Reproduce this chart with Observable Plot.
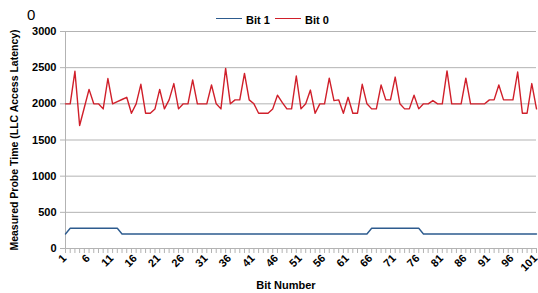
<!DOCTYPE html>
<html><head><meta charset="utf-8">
<script src="https://cdn.jsdelivr.net/npm/d3@7"></script>
<script src="https://cdn.jsdelivr.net/npm/@observablehq/plot@0.6"></script>
<style>
body{margin:0;background:#fff;font-family:"Liberation Sans",Arial,sans-serif;}
#wrap{position:relative;width:538px;height:293px;overflow:hidden;}
#head{position:relative;height:26px;}
#zero{position:absolute;left:27px;top:7px;font-size:15px;line-height:15px;color:#000;}
.sw{position:absolute;top:18px;width:26px;height:0;border-top:1.4px solid;}
.lt{position:absolute;top:14.5px;font-size:11px;line-height:11px;font-weight:bold;color:#000;}
#xlabel{position:absolute;left:286px;top:279px;transform:translateX(-50%);font-size:11px;line-height:13px;font-weight:bold;white-space:nowrap;}
#chart svg{display:block;}
</style></head><body>
<div id="wrap">
  <div id="head">
    <span id="zero">0</span>
    <span class="sw" style="left:216px;border-color:#2d5b8e"></span>
    <span class="lt" style="left:246px">Bit 1</span>
    <span class="sw" style="left:275px;border-color:#d01f2a"></span>
    <span class="lt" style="left:305px">Bit 0</span>
  </div>
  <div id="chart"></div>
  <div id="xlabel">Bit Number</div>
</div>
<script>
const bitNumbers = [1,2,3,4,5,6,7,8,9,10,11,12,13,14,15,16,17,18,19,20,21,22,23,24,25,26,27,28,29,30,31,32,33,34,35,36,37,38,39,40,41,42,43,44,45,46,47,48,49,50,51,52,53,54,55,56,57,58,59,60,61,62,63,64,65,66,67,68,69,70,71,72,73,74,75,76,77,78,79,80,81,82,83,84,85,86,87,88,89,90,91,92,93,94,95,96,97,98,99,100,101];
const bit1Values = [200,280,280,280,280,280,280,280,280,280,280,280,200,200,200,200,200,200,200,200,200,200,200,200,200,200,200,200,200,200,200,200,200,200,200,200,200,200,200,200,200,200,200,200,200,200,200,200,200,200,200,200,200,200,200,200,200,200,200,200,200,200,200,200,200,280,280,280,280,280,280,280,280,280,280,280,200,200,200,200,200,200,200,200,200,200,200,200,200,200,200,200,200,200,200,200,200,200,200,200,200];
const bit0Values = [2000,2000,2450,1700,1950,2200,2000,2000,1930,2350,2000,2030,2060,2090,1870,2000,2270,1870,1870,1930,2200,1930,2055,2280,1930,2000,2000,2330,2000,2000,2000,2260,2000,1930,2490,2000,2055,2055,2420,2055,2000,1870,1870,1870,1930,2120,2020,1930,1930,2385,1930,2000,2190,1870,2000,2000,2355,2045,2055,1870,2090,1870,1870,2270,2000,1930,1930,2260,2055,2055,2370,2000,1930,1930,2120,1930,2000,2000,2045,2000,2000,2455,2000,2000,2000,2355,2000,2000,2000,2000,2055,2055,2260,2055,2055,2055,2440,1870,1870,2280,1930];
const yTicks = [0,500,1000,1500,2000,2500,3000];
const xLabelTicks = [1,6,11,16,21,26,31,36,41,46,51,56,61,66,71,76,81,86,91,96,101];
const yTitle = "Measured Probe Time (LLC Access Latency)";
const blue = "#2d5b8e", red = "#d01f2a", grey = "#b3b3b3";

const chart = Plot.plot({
  width: 538, height: 252,
  marginTop: 5, marginBottom: 30, marginLeft: 65, marginRight: 2,
  x: {type: "linear", domain: [1, 101]},
  y: {domain: [0, 3000]},
  style: {fontFamily: "'Liberation Sans', Arial, sans-serif", fontSize: "11px", fontWeight: "bold", color: "#000", background: "#fff"},
  marks: [
    Plot.gridY(yTicks, {stroke: grey, strokeOpacity: 1, strokeWidth: 1}),
    Plot.ruleX([1], {stroke: grey, strokeWidth: 1}),
    Plot.axisY(yTicks, {tickSize: 5, stroke: grey, tickFormat: () => "", label: null}),
    Plot.axisY(yTicks, {tickSize: 0, tickPadding: 9, fill: "#000", tickFormat: d => String(d), label: null}),
    Plot.axisY([], {tickSize: 0, label: yTitle, labelAnchor: "center", labelArrow: "none", labelOffset: 55, fontSize: 10.5, fill: "#000"}),
    Plot.axisX(bitNumbers, {tickSize: 5, stroke: grey, tickFormat: () => "", label: null}),
    Plot.axisX(xLabelTicks, {tickSize: 0, tickPadding: 8, dx: -1, tickRotate: -45, fill: "#000", tickFormat: d => String(d), label: null}),
    Plot.line(bit1Values, {x: bitNumbers, y: bit1Values, stroke: blue, strokeWidth: 1.4}),
    Plot.line(bit0Values, {x: bitNumbers, y: bit0Values, stroke: red, strokeWidth: 1.4})
  ]
});
document.getElementById("chart").appendChild(chart);
</script>
</body></html>
